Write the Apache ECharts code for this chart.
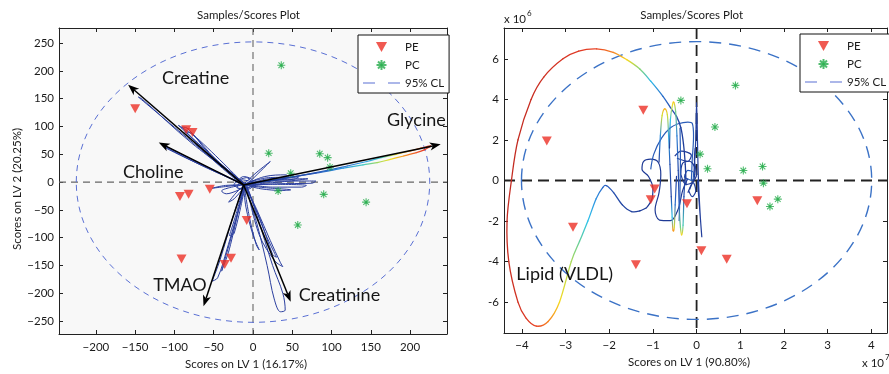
<!DOCTYPE html>
<html><head><meta charset="utf-8">
<script src="https://cdn.jsdelivr.net/npm/echarts@6/dist/echarts.min.js"></script>
<style>html,body{margin:0;padding:0;background:#fff}#c{width:889px;height:374px}</style>
</head><body><div id="c"></div><script>
// ================= DATA =================
const leftXTicks = [-200,-150,-100,-50,0,50,100,150,200];
const leftYTicks = [-250,-200,-150,-100,-50,0,50,100,150,200,250];
const rightXTicks = [-4,-3,-2,-1,0,1,2,3,4];
const rightYTicks = [-6,-4,-2,0,2,4,6];

const legendNames = ['PE','PC','95% CL'];
const titleText = 'Samples/Scores Plot';
const leftXName = 'Scores on LV 1 (16.17%)';
const leftYName = 'Scores on LV 2 (20.25%)';
const rightXName = 'Scores on LV 1 (90.80%)';

// scores (left panel)
const peLeft = [[-150,132],[-85,94],[-77,89],[-55,-13],[-93,-26],[-82,-22],[-8,-69],[-91,-138],[-28,-137],[-36,-148]];
const pcLeft = [[36,210],[20,52],[85,51],[95,44],[98,27],[48,16],[32,-16],[90,-22],[144,-36],[57,-77]];
// scores (right panel, x in 1e7, y in 1e6)
const peRight = [[-3.43,1.95],[-1.22,3.46],[-0.96,-0.42],[-1.05,-0.95],[-0.22,-1.15],[-2.83,-2.3],[-1.39,-4.16],[0.11,-3.46],[0.69,-3.88],[1.39,-1.0]];
const pcRight = [[-0.36,3.95],[0.89,4.69],[0.42,2.64],[0.08,1.30],[0.25,0.58],[1.07,0.49],[1.51,0.69],[1.53,-0.13],[1.86,-0.92],[1.68,-1.28]];

// 95% CL ellipses: [cx, cy, rx, ry]
const ellipseLeft = [0, 0, 225, 252];
const ellipseRight = [0, 0, 4.01, 6.85];

// loading arrows (left): origin -> tip, names and label centres
const arrowOrigin = [-12, -5];
const arrowTips = [[-159,175],[-120,71],[239,68],[-63,-223],[48,-215]];
const arrowNames = ['Creatine','Choline','Glycine','TMAO','Creatinine'];
const arrowLabelPos = [[-73,187],[-127,18],[208,112],[-93,-186],[110,-204]];
const rightNames = ['Lipid (VLDL)'];
const rightLabelPos = [[-3.02,-4.62]];

// loading traces (left) - blue loops
const leftLoops = [
 [[-12,-5],[-80,75],[-146,153],[-141,149],[-78,70],[-9,-4]],
 [[-12,-4],[-60,55],[-91,99],[-84,97],[-55,50],[-10,-3]],
 [[-13,-6],[-55,45],[-87,90],[-78,87],[-48,42],[-9,-5]],
 [[-12,-5],[-70,70],[-95,102],[-72,80],[-11,-4]],
 [[-12,-4],[-70,35],[-117,68],[-112,62],[-65,30],[-10,-6]],
 [[-12,-5],[-60,28],[-113,66],[-105,58],[-58,25],[-9,-5]],
 [[-12,-4],[5,18],[22,37],[17,30],[-6,-2]],
 [[-14,-4],[30,2],[80,2],[75,-2],[30,-3],[-10,-6]],
 [[-14,-5],[20,8],[58,9],[52,5],[20,3],[-10,-3]],
 [[-14,-6],[25,-4],[68,-6],[62,-9],[25,-9],[-8,-4]],
 [[-12,-5],[15,10],[42,13],[45,9],[15,5],[-8,-5]],
 [[-12,-5],[15,-10],[48,-14],[38,-15],[10,-12],[-10,-5]],
 [[-12,-4],[40,5],[70,6],[40,1],[-10,-5]],
 [[-12,-5],[-30,-10],[-40,-16],[-34,-21],[-10,-8]],
 [[-12,-6],[-22,-20],[-31,-36],[-24,-30],[-10,-7]],
 [[-12,-4],[-35,-8],[-52,-11],[-35,-6],[-12,-5]],
 [[-22,-2],[-12,10],[0,2],[-4,-12],[-20,-10],[-14,4],[4,-4],[-16,-12],[-24,-4],[-8,8],[2,-8]],
 [[-12,-6],[-25,-60],[-42,-140],[-52,-178],[-45,-172],[-33,-120],[-10,-8]],
 [[-12,-5],[-20,-50],[-30,-96],[-24,-92],[-10,-6]],
 [[-11,-7],[-22,-70],[-38,-150],[-40,-160],[-30,-120],[-12,-8]],
 [[-10,-6],[5,-50],[22,-105],[35,-145],[38,-152],[28,-142],[8,-95],[-8,-8]],
 [[-10,-6],[5,-75],[18,-150],[27,-210],[35,-233],[41,-230],[38,-200],[25,-150],[5,-60],[-8,-7]],
 [[-12,-7],[-9,-45],[0,-95],[8,-122],[4,-112],[-5,-60],[-11,-8]],
 [[-10,-6],[10,-70],[25,-130],[30,-135],[15,-90],[-8,-6]]
];
// coloured loading trace (left, Glycine): [x, y, colour value 0..1]
const glycineCurve = [
 [-12,-5,0],[30,4,0.02],[80,17,0.1],[120,29,0.22],[145,37,0.34],[163,44,0.44],[182,50,0.62],[200,56,0.76],[214,61,0.86],[226,65,0.92],
 [218,58,0.9],[208,53,0.84],[192,47,0.76],[175,41,0.64],[158,35,0.54],[140,31,0.44],[115,25,0.32],[80,16,0.12],[40,7,0.03],[-10,-4,0]
];
// coloured loading traces (right)
const lipidCurve = [
 [-0.24,-0.2,0],[-0.26,0.8,0],[-0.3,1.8,0],[-0.36,2.6,0.02],[-0.46,3.16,0.05],[-0.6,3.6,0.1],[-0.77,4.15,0.2],[-1.05,4.9,0.38],
 [-1.3,5.5,0.52],[-1.6,5.96,0.66],[-1.91,6.32,0.78],[-2.29,6.49,0.88],[-2.7,6.38,0.91],[-3.06,6.0,0.93],[-3.5,5.1,0.95],
 [-3.79,4.0,0.96],[-4.09,2.0,0.97],[-4.24,0,0.97],[-4.34,-2.0,0.97],[-4.3,-4.0,0.96],[-4.09,-6.0,0.94],[-3.9,-6.8,0.92],
 [-3.67,-7.18,0.88],[-3.4,-6.95,0.78],[-3.14,-6.0,0.66],[-2.87,-4.0,0.55],[-2.68,-3.0,0.48],[-2.49,-2.0,0.4],[-2.3,-0.9,0.3],
 [-2.15,-0.35,0.2],[-2.06,-0.26,0.15],[-1.9,-0.6,0.08],[-1.7,-1.2,0.04],[-1.49,-1.53,0.02],[-1.3,-1.5,0],[-1.15,-1.35,0]
];
const spikeA = [[-0.86,0.9,0],[-0.83,2.2,0.3],[-0.79,3.2,0.6],[-0.73,3.53,0.72],[-0.67,3.25,0.6],[-0.64,2.2,0.35],[-0.61,0.8,0.1],[-0.58,-0.8,0.05],[-0.56,-1.8,0.4],[-0.54,-2.45,0.75],[-0.51,-2.3,0.6],[-0.49,-1.2,0.2],[-0.46,0.2,0]];
const spikeB = [[-0.62,1.6,0],[-0.6,3.0,0.4],[-0.55,3.75,0.64],[-0.52,3.85,0.68],[-0.48,3.4,0.5],[-0.45,2.2,0.25],[-0.42,0.5,0.05],[-0.4,-1.2,0.15],[-0.37,-2.3,0.5],[-0.34,-2.68,0.66],[-0.31,-2.2,0.45],[-0.29,-0.8,0.1],[-0.26,0.3,0]];
// blue loading traces (right)
const rightLoops = [
 [[-1.15,-1.35],[-1.02,-0.9],[-1.0,-0.4],[-1.1,0.2],[-1.25,0.55],[-1.22,0.92],[-1.05,1.05],[-0.88,0.9],[-0.82,0.3],[-0.86,-0.6],[-0.95,-1.45],[-0.85,-1.95],[-0.6,-1.98],[-0.42,-1.4],[-0.32,-0.5],[-0.2,0.1]],
 [[-1.05,0.55],[-0.98,1.3],[-0.8,2.1],[-0.6,2.6],[-0.42,2.8],[-0.2,2.88],[-0.1,2.82],[-0.07,2.2],[-0.1,1.0],[-0.12,0]],
 [[-0.06,0.4],[-0.02,2.0],[0.0,3.85],[0.02,2.0],[0.04,0.2],[0.08,-1.6],[0.12,-2.8],[0.07,-1.4],[0.02,0]],
 [[-0.36,0.3],[-0.32,0.85],[-0.16,0.95],[-0.04,0.55],[-0.08,-0.05],[-0.24,-0.2],[-0.36,0.3]],
 [[-0.28,0.15],[-0.2,0.5],[-0.07,0.38],[-0.1,0.0],[-0.28,0.15]],
 [[-0.5,1.2],[-0.35,1.45],[-0.12,1.25],[-0.2,0.95],[-0.45,1.1]],
 [[-0.2,-0.6],[-0.12,-0.2],[0.0,0.3],[-0.05,1.0],[-0.03,1.6]],
 [[-0.38,2.6],[-0.37,1.0],[-0.38,-0.5],[-0.4,-2.0]],
 [[-0.16,-0.45],[-0.08,-0.1],[-0.02,-0.5],[-0.1,-0.8],[-0.18,-0.5]]
];

// ================= STYLE / RENDER =================
const FONT = 'Lato, "Open Sans", sans-serif';
const RED = '#ec2f25', GREEN = '#26ad4b';
const TRI = 'path://M0,0L10,0L5,9Z';
const STAR = 'path://M-4,0L4,0M0,-4L0,4M-2.8,-2.8L2.8,2.8M-2.8,2.8L2.8,-2.8M-1.4,0L0,-1.4L1.4,0L0,1.4Z';
const DASHICON = 'path://M0,0M37,10M0,4.4L12,4.4L12,5.6L0,5.6ZM25,4.4L37,4.4L37,5.6L25,5.6Z';
const cmapStops = [[0,'#1f3d99'],[0.15,'#2a5ec0'],[0.3,'#2f8fe0'],[0.4,'#2cc3ea'],[0.5,'#6fd18a'],[0.58,'#c8de3a'],[0.65,'#f6e01e'],[0.74,'#f8a31c'],[0.82,'#f3642a'],[0.9,'#e53a24'],[1,'#b5251f']];
function hex(h){return [parseInt(h.slice(1,3),16),parseInt(h.slice(3,5),16),parseInt(h.slice(5,7),16)];}
function cmap(t){
  for(let i=1;i<cmapStops.length;i++){
    if(t<=cmapStops[i][0]){
      const a=cmapStops[i-1], b=cmapStops[i]; const f=(t-a[0])/(b[0]-a[0]||1);
      const ca=hex(a[1]), cb=hex(b[1]);
      return 'rgb('+ca.map((v,k)=>Math.round(v+(cb[k]-v)*f)).join(',')+')';
    }
  }
  return cmapStops[cmapStops.length-1][1];
}
const minusFmt = v => v < 0 ? '\u2212' + Math.abs(v) : String(v);

function loopSeries(loop, xi, yi, color, w){
  return {type:'line', xAxisIndex:xi, yAxisIndex:yi, data:loop, symbol:'none', smooth:0.35,
    lineStyle:{color, width:w}, silent:true, z:2};
}
function gradCurve(curve, xi, yi, w){
  return {type:'custom', xAxisIndex:xi, yAxisIndex:yi, data:curve, silent:true, z:3, clip:true,
    encode:{x:0,y:1},
    renderItem(params, api){
      const i = params.dataIndex, n = curve.length;
      if (i >= n-1) return null;
      const P = k => { const q = curve[Math.max(0, Math.min(n-1, k))]; return api.coord([q[0], q[1]]); };
      const p0=P(i-1), p1=api.coord([api.value(0), api.value(1)]), p2=P(i+1), p3=P(i+2);
      const c1=[p1[0]+(p2[0]-p0[0])/6, p1[1]+(p2[1]-p0[1])/6];
      const c2=[p2[0]-(p3[0]-p1[0])/6, p2[1]-(p3[1]-p1[1])/6];
      return {type:'bezierCurve',
        shape:{x1:p1[0],y1:p1[1],x2:p2[0],y2:p2[1],cpx1:c1[0],cpy1:c1[1],cpx2:c2[0],cpy2:c2[1]},
        style:{fill:null, lineWidth:w, lineCap:'round',
          stroke:new echarts.graphic.LinearGradient(p1[0],p1[1],p2[0]+0.01,p2[1]+0.01,
            [{offset:0,color:cmap(api.value(2))},{offset:1,color:cmap(curve[i+1][2])}], true)}};
    }};
}
function ellipseSeries(e, xi, yi, color, dash, w){
  return {type:'custom', name:'95% CL', xAxisIndex:xi, yAxisIndex:yi, data:[e], silent:true, z:1,
    itemStyle:{color},
    renderItem(params, api){
      const c = api.coord([api.value(0), api.value(1)]);
      const s = api.size([api.value(2), api.value(3)]);
      return {type:'ellipse', shape:{cx:c[0], cy:c[1], rx:s[0], ry:s[1]},
        style:{fill:'none', stroke:color, lineWidth:w, lineDash:dash}};
    }};
}
function zeroLines(xi, yi, color, dash, w){
  return {type:'custom', xAxisIndex:xi, yAxisIndex:yi, data:[[0,0]], silent:true, z:1,
    renderItem(params, api){
      const cs = params.coordSys, p = api.coord([api.value(0), api.value(1)]);
      const st = {stroke:color, lineDash:dash, lineWidth:w};
      return {type:'group', children:[
        {type:'line', shape:{x1:cs.x, y1:p[1], x2:cs.x+cs.width, y2:p[1]}, style:st},
        {type:'line', shape:{x1:p[0], y1:cs.y, x2:p[0], y2:cs.y+cs.height}, style:st}
      ]};
    }};
}
function arrowSeries(){
  return {type:'custom', xAxisIndex:0, yAxisIndex:0, silent:true, z:6,
    data: arrowTips.map(t => [arrowOrigin[0], arrowOrigin[1], t[0], t[1]]),
    renderItem(params, api){
      const p0 = api.coord([api.value(0), api.value(1)]), p1 = api.coord([api.value(2), api.value(3)]);
      const dx=p1[0]-p0[0], dy=p1[1]-p0[1], L=Math.hypot(dx,dy), ux=dx/L, uy=dy/L, nx=-uy, ny=ux;
      const hl=11, hw=4.2, notch=3;
      const base=[p1[0]-ux*hl, p1[1]-uy*hl], back=[p1[0]-ux*(hl-notch), p1[1]-uy*(hl-notch)];
      return {type:'group', children:[
        {type:'line', shape:{x1:p0[0],y1:p0[1],x2:back[0],y2:back[1]}, style:{stroke:'#000', lineWidth:1.5}},
        {type:'polygon', shape:{points:[p1,[base[0]+nx*hw, base[1]+ny*hw], back, [base[0]-nx*hw, base[1]-ny*hw]]}, style:{fill:'#000'}}
      ]};
    }};
}
function labelSeries(pos, names, xi, yi){
  return {type:'custom', xAxisIndex:xi, yAxisIndex:yi, data:pos, silent:true, z:7,
    renderItem(params, api){
      const p = api.coord([api.value(0), api.value(1)]);
      return {type:'text', x:p[0], y:p[1], style:{text:names[params.dataIndex], fontSize:18, fontFamily:FONT,
        fill:'#151515', align:'center', verticalAlign:'middle'}};
    }};
}
function scatter(name, data, xi, yi){
  const pe = name === 'PE';
  return {type:'scatter', name, xAxisIndex:xi, yAxisIndex:yi, data, z:5, silent:true,
    symbol: pe ? TRI : STAR, symbolSize: pe ? [10,9] : 8,
    itemStyle: pe ? {color:RED} : {color:GREEN, borderColor:GREEN, borderWidth:1.1}};
}
function xAx(grid, min, max, ticks, pos, opts){
  return Object.assign({type:'value', gridIndex:grid, min, max, position:pos, splitLine:{show:false},
    axisLine:{show:true, onZero:false, lineStyle:{color:'#222', width:1}},
    axisTick:{show:true, inside:true, length:4, customValues:ticks, lineStyle:{color:'#222'}},
    axisLabel:{show:false, customValues:ticks}}, opts||{});
}
const lblStyle = {fontSize:11.5, fontFamily:FONT, color:'#1a1a1a'};

const legendBase = {orient:'vertical', itemWidth:37, itemHeight:10, itemGap:6, padding:[6,5,4,5],
  borderColor:'#111', borderWidth:1, backgroundColor:'#fff', selectedMode:false,
  textStyle:{fontSize:11.5, fontFamily:FONT, color:'#1a1a1a'},
  data:[{name:legendNames[0], icon:TRI},{name:legendNames[1], icon:STAR},{name:legendNames[2], icon:DASHICON}]};

const series = [
  zeroLines(0,0,'#666',[7,5],1.1),
  ellipseSeries(ellipseLeft,0,0,'#5a70d4',[6,5],1),
  ...leftLoops.map(l => loopSeries(l,0,0,'#2b3f9f',1)),
  gradCurve(glycineCurve,0,0,1.2),
  arrowSeries(),
  scatter('PE',peLeft,0,0),
  scatter('PC',pcLeft,0,0),
  labelSeries(arrowLabelPos, arrowNames, 0, 0),

  zeroLines(2,2,'#222',[11,6],1.8),
  ellipseSeries(ellipseRight,2,2,'#3b72c6',[12,8],1.4),
  ...rightLoops.map((l,i) => loopSeries(l,2,2,['#1f3a95','#2a5cb8','#233f9c'][i%3],1.2)),
  gradCurve(lipidCurve,2,2,1.3),
  gradCurve(spikeA,2,2,1.2),
  gradCurve(spikeB,2,2,1.2),
  scatter('PE',peRight,2,2),
  scatter('PC',pcRight,2,2),
  labelSeries(rightLabelPos, rightNames, 2, 2)
];

const chart = echarts.init(document.getElementById('c'), null, {renderer:'canvas'});
chart.setOption({
  animation:false,
  backgroundColor:'#fff',
  grid:[
    {left:59, top:28, width:388, height:306, show:true, backgroundColor:'#f8f8f8', borderWidth:0, containLabel:false, outerBoundsMode:'none'},
    {left:504, top:28, width:383, height:305, show:true, backgroundColor:'#ffffff', borderWidth:0, containLabel:false, outerBoundsMode:'none'}
  ],
  xAxis:[
    xAx(0,-247,247,leftXTicks,'bottom',{axisLabel:Object.assign({show:true, customValues:leftXTicks, margin:7, formatter:minusFmt}, lblStyle),
      name:leftXName, nameLocation:'middle', nameGap:22, nameTextStyle:Object.assign({padding:[0,14,0,0]}, lblStyle)}),
    xAx(0,-247,247,leftXTicks,'top'),
    xAx(1,-4.41,4.36,rightXTicks,'bottom',{axisLabel:Object.assign({show:true, customValues:rightXTicks, margin:6, formatter:minusFmt}, lblStyle),
      name:rightXName, nameLocation:'middle', nameGap:19, nameTextStyle:Object.assign({padding:[0,13,0,0]}, lblStyle)}),
    xAx(1,-4.41,4.36,rightXTicks,'top')
  ],
  yAxis:[
    xAx(0,-273,277,leftYTicks,'left',{axisLabel:Object.assign({show:true, customValues:leftYTicks, margin:5, formatter:minusFmt}, lblStyle),
      name:leftYName, nameLocation:'middle', nameGap:36, nameRotate:90, nameTextStyle:Object.assign({padding:[0,16,0,0]}, lblStyle)}),
    xAx(0,-273,277,leftYTicks,'right'),
    xAx(1,-7.52,7.52,rightYTicks,'left',{axisLabel:Object.assign({show:true, customValues:rightYTicks, margin:5, formatter:v=>String(v)}, lblStyle)}),
    xAx(1,-7.52,7.52,rightYTicks,'right')
  ],
  legend:[
    Object.assign({left:358, top:35}, legendBase),
    Object.assign({left:800, top:34}, legendBase)
  ],
  graphic:[
    {type:'text', x:248.5, y:15, style:{text:titleText, fontSize:11.5, fontFamily:FONT, fill:'#1a1a1a', align:'center', verticalAlign:'middle'}},
    {type:'text', x:691.7, y:15, style:{text:titleText, fontSize:11.5, fontFamily:FONT, fill:'#1a1a1a', align:'center', verticalAlign:'middle'}},
    {type:'text', x:504, y:19, style:{text:'x 10', fontSize:11.5, fontFamily:FONT, fill:'#1a1a1a', align:'left', verticalAlign:'middle'}},
    {type:'text', x:527, y:13, style:{text:'6', fontSize:8, fontFamily:FONT, fill:'#1a1a1a', align:'left', verticalAlign:'middle'}},
    {type:'text', x:862, y:363, style:{text:'x 10', fontSize:11.5, fontFamily:FONT, fill:'#1a1a1a', align:'left', verticalAlign:'middle'}},
    {type:'text', x:885, y:357, style:{text:'7', fontSize:8, fontFamily:FONT, fill:'#1a1a1a', align:'left', verticalAlign:'middle'}}
  ],
  series
});
</script></body></html>
